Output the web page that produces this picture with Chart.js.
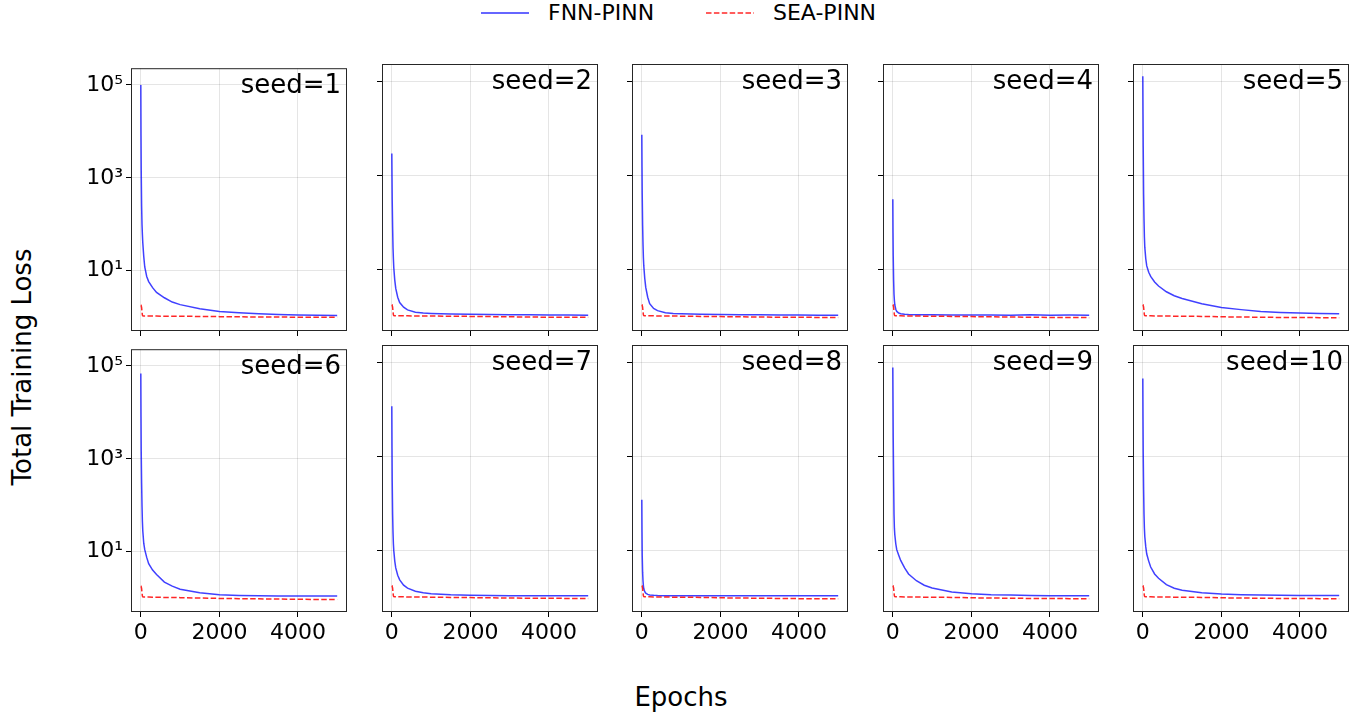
<!DOCTYPE html>
<html>
<head>
<meta charset="utf-8">
<script src="https://cdn.jsdelivr.net/npm/chart.js@4.4.1/dist/chart.umd.min.js"></script>
<style>
  body { margin: 0; background: #fff; font-family: 'DejaVu Sans', sans-serif; }
  #fig { position: relative; width: 1369px; height: 717px; overflow: hidden; background: #fff; }
  .panel { position: absolute; width: 288px; height: 319px; }
  .txt { position: absolute; color: #000; white-space: nowrap; }
  .leg { position: absolute; top: 0; height: 26px; font-size: 22px; line-height: 26px; }
</style>
</head>
<body>
<div id="fig">
  <svg class="txt" style="left:481px;top:11px" width="48" height="4"><line x1="0" y1="2" x2="48" y2="2" stroke="rgba(0,0,255,0.8)" stroke-width="1.5"/></svg>
  <div class="txt leg" style="left:548px">FNN-PINN</div>
  <svg class="txt" style="left:706px;top:11px" width="48" height="4"><line x1="0" y1="2" x2="48" y2="2" stroke="rgba(255,0,0,0.85)" stroke-width="1.5" stroke-dasharray="5.5 2.4"/></svg>
  <div class="txt leg" style="left:773px">SEA-PINN</div>
  <div class="txt" style="left:22px;top:367px;font-size:26px;transform:translate(-50%,-50%) rotate(-90deg);">Total Training Loss</div>
  <div class="txt" style="left:681px;top:697px;font-size:26px;transform:translate(-50%,-50%);">Epochs</div>
</div>
<script>
// shared epoch grid
const epochs = [0, 5, 10, 20, 30, 40, 50, 75, 100, 150, 200, 300, 400, 600, 800, 1000, 1500, 2000, 2500, 3000, 3500, 4000, 4500, 4999];

// FNN-PINN losses per seed
const fnn1 = [100000, 8000, 1500, 250, 100, 60, 40, 20, 12, 7.5, 5.8, 4.3, 3.4, 2.6, 2.1, 1.85, 1.5, 1.32, 1.23, 1.17, 1.13, 1.11, 1.09, 1.08];
const fnn2 = [2900, 900, 300, 80, 30, 17, 11, 6, 4, 2.6, 2.0, 1.6, 1.4, 1.25, 1.2, 1.18, 1.15, 1.13, 1.12, 1.11, 1.1, 1.09, 1.09, 1.08];
const fnn3 = [7300, 1500, 400, 90, 35, 18, 12, 6.5, 4.2, 2.6, 1.9, 1.5, 1.35, 1.22, 1.18, 1.16, 1.13, 1.12, 1.11, 1.1, 1.09, 1.09, 1.08, 1.08];
const fnn4 = [310, 60, 20, 6, 3, 2.2, 1.8, 1.45, 1.3, 1.2, 1.16, 1.13, 1.12, 1.11, 1.1, 1.1, 1.09, 1.09, 1.09, 1.08, 1.1, 1.08, 1.09, 1.08];
const fnn5 = [127000, 20000, 4000, 400, 120, 50, 30, 17, 12, 8.8, 7.2, 5.5, 4.5, 3.4, 2.8, 2.45, 1.9, 1.58, 1.42, 1.3, 1.24, 1.2, 1.18, 1.16];
const fnn6 = [69000, 8000, 1500, 300, 100, 45, 28, 15, 11, 7.5, 5.5, 4, 3.2, 2.2, 1.8, 1.55, 1.3, 1.18, 1.14, 1.12, 1.11, 1.1, 1.1, 1.1];
const fnn7 = [11500, 1500, 300, 60, 25, 14, 10, 6, 4.3, 3, 2.4, 1.85, 1.6, 1.38, 1.28, 1.22, 1.16, 1.13, 1.12, 1.11, 1.1, 1.1, 1.1, 1.1];
const fnn8 = [120, 25, 8, 3.5, 2.3, 1.8, 1.55, 1.35, 1.25, 1.18, 1.15, 1.13, 1.12, 1.11, 1.11, 1.1, 1.1, 1.1, 1.1, 1.1, 1.1, 1.1, 1.1, 1.1];
const fnn9 = [77000, 15000, 2500, 320, 60, 30, 22, 14, 10.5, 8, 6.2, 4.3, 3.2, 2.3, 1.85, 1.62, 1.33, 1.22, 1.16, 1.14, 1.12, 1.11, 1.11, 1.11];
const fnn10 = [45000, 6000, 1200, 200, 60, 30, 20, 12, 8.5, 6, 4.5, 3.2, 2.6, 1.9, 1.6, 1.45, 1.28, 1.2, 1.16, 1.14, 1.13, 1.12, 1.12, 1.12];

// SEA-PINN losses per seed
const sea1 = [1.8, 1.8, 1.75, 1.6, 1.3, 1.1, 1.06, 1.05, 1.05, 1.05, 1.05, 1.05, 1.05, 1.04, 1.04, 1.04, 1.03, 1.02, 1.01, 1.0, 1.0, 0.99, 0.99, 0.99];
const sea2 = [1.8, 1.8, 1.75, 1.6, 1.3, 1.1, 1.06, 1.05, 1.05, 1.05, 1.05, 1.05, 1.05, 1.04, 1.04, 1.04, 1.03, 1.02, 1.01, 1.0, 0.99, 0.98, 0.98, 0.98];
const sea3 = [1.8, 1.8, 1.75, 1.6, 1.3, 1.1, 1.06, 1.05, 1.05, 1.05, 1.05, 1.05, 1.04, 1.04, 1.04, 1.03, 1.02, 1.01, 1.0, 0.99, 0.98, 0.98, 0.97, 0.97];
const sea4 = [1.8, 1.8, 1.75, 1.6, 1.3, 1.1, 1.06, 1.05, 1.05, 1.05, 1.05, 1.04, 1.04, 1.04, 1.03, 1.03, 1.02, 1.01, 1.0, 0.99, 0.98, 0.97, 0.97, 0.96];
const sea5 = [1.8, 1.8, 1.75, 1.6, 1.3, 1.1, 1.06, 1.05, 1.05, 1.05, 1.05, 1.04, 1.04, 1.04, 1.03, 1.03, 1.02, 1.0, 0.99, 0.98, 0.97, 0.97, 0.96, 0.96];
const sea6 = [1.8, 1.8, 1.75, 1.6, 1.3, 1.1, 1.06, 1.05, 1.05, 1.05, 1.05, 1.04, 1.04, 1.03, 1.03, 1.02, 1.0, 0.98, 0.97, 0.96, 0.95, 0.94, 0.93, 0.93];
const sea7 = [1.8, 1.8, 1.75, 1.6, 1.3, 1.1, 1.06, 1.05, 1.05, 1.05, 1.05, 1.05, 1.04, 1.04, 1.04, 1.03, 1.02, 1.01, 1.0, 0.99, 0.98, 0.98, 0.97, 0.97];
const sea8 = [1.8, 1.8, 1.75, 1.6, 1.3, 1.1, 1.06, 1.05, 1.05, 1.05, 1.05, 1.04, 1.04, 1.04, 1.03, 1.03, 1.02, 1.0, 0.99, 0.98, 0.97, 0.96, 0.95, 0.95];
const sea9 = [1.8, 1.8, 1.75, 1.6, 1.3, 1.1, 1.06, 1.05, 1.05, 1.05, 1.05, 1.04, 1.04, 1.04, 1.03, 1.03, 1.02, 1.0, 0.99, 0.98, 0.97, 0.97, 0.96, 0.96];
const sea10 = [1.8, 1.8, 1.75, 1.6, 1.3, 1.1, 1.06, 1.05, 1.05, 1.05, 1.05, 1.04, 1.04, 1.04, 1.03, 1.03, 1.02, 1.0, 0.99, 0.98, 0.97, 0.97, 0.96, 0.96];

const seeds = [1, 2, 3, 4, 5, 6, 7, 8, 9, 10];
const fnnAll = [fnn1, fnn2, fnn3, fnn4, fnn5, fnn6, fnn7, fnn8, fnn9, fnn10];
const seaAll = [sea1, sea2, sea3, sea4, sea5, sea6, sea7, sea8, sea9, sea10];

const xTicks = [0, 2000, 4000];
const yTicks = [10, 1000, 100000];
const yTickLabels = {10: '10\u00B9', 1000: '10\u00B3', 100000: '10\u2075'};

Chart.defaults.font.family = "'DejaVu Sans', sans-serif";
Chart.defaults.color = '#000';

const colLeft = [131, 382, 632, 883, 1133];
const rowTop = [64, 345];

// frame + seed label inside each panel
const panelDeco = {
  id: 'panelDeco',
  afterDraw(chart, args, opts) {
    const {ctx, chartArea: a} = chart;
    ctx.save();
    ctx.strokeStyle = '#262626';
    ctx.lineWidth = 1;
    ctx.strokeRect(a.left + 0.5, a.top + 0.5, a.right - a.left - 1, a.bottom - a.top - 1);
    ctx.font = "26px 'DejaVu Sans'";
    ctx.fillStyle = '#000';
    ctx.textAlign = 'right';
    ctx.textBaseline = 'alphabetic';
    ctx.fillText(opts.label, a.right - 6, a.top + 25);
    ctx.restore();
  }
};

const fig = document.getElementById('fig');

seeds.forEach((s, i) => {
  const row = Math.floor(i / 5), col = i % 5;
  const canvas = document.createElement('canvas');
  canvas.className = 'panel';
  canvas.width = 288;
  canvas.height = 319;
  canvas.style.left = (colLeft[col] - 60) + 'px';
  canvas.style.top = (rowTop[row] - 12) + 'px';
  fig.appendChild(canvas);

  const fnnPts = epochs.map((e, k) => ({x: e, y: fnnAll[i][k]}));
  const seaPts = epochs.map((e, k) => ({x: e, y: seaAll[i][k]}));

  new Chart(canvas.getContext('2d'), {
    type: 'line',
    data: {
      datasets: [
        {label: 'SEA-PINN', data: seaPts, borderColor: 'rgba(255,0,0,0.85)', borderWidth: 1.5, borderDash: [5.5, 2.4], pointRadius: 0, tension: 0},
        // a solid "dash" keeps Chart.js off its pixel-merging fast path
        {label: 'FNN-PINN', data: fnnPts, borderColor: 'rgba(0,0,255,0.75)', borderWidth: 1.5, borderDash: [5000, 0], pointRadius: 0, tension: 0}
      ]
    },
    options: {
      responsive: false,
      animation: false,
      devicePixelRatio: 1,
      layout: {padding: {top: 12, right: 12, left: 0, bottom: 0}},
      plugins: {
        legend: {display: false},
        tooltip: {enabled: false},
        panelDeco: {label: 'seed=' + s}
      },
      scales: {
        x: {
          type: 'linear',
          min: -250,
          max: 5249,
          afterBuildTicks: sc => { sc.ticks = xTicks.map(v => ({value: v})); },
          afterFit: sc => { sc.height = 40; },
          border: {display: false},
          grid: {color: 'rgba(0,0,0,0.1)', lineWidth: 1, tickColor: '#000', tickLength: 5},
          ticks: {display: row === 1, autoSkip: false, maxRotation: 0, padding: 3, font: {size: 22}, callback: v => String(v)}
        },
        y: {
          type: 'logarithmic',
          min: 0.5,
          max: 230000,
          afterBuildTicks: sc => { sc.ticks = yTicks.map(v => ({value: v})); },
          afterFit: sc => { sc.width = 60; },
          border: {display: false},
          grid: {color: 'rgba(0,0,0,0.1)', lineWidth: 1, tickColor: '#000', tickLength: 5},
          ticks: {display: col === 0, autoSkip: false, padding: 3, font: {size: 22}, callback: v => yTickLabels[v] || ''}
        }
      }
    },
    plugins: [panelDeco]
  });
});
</script>
</body>
</html>
